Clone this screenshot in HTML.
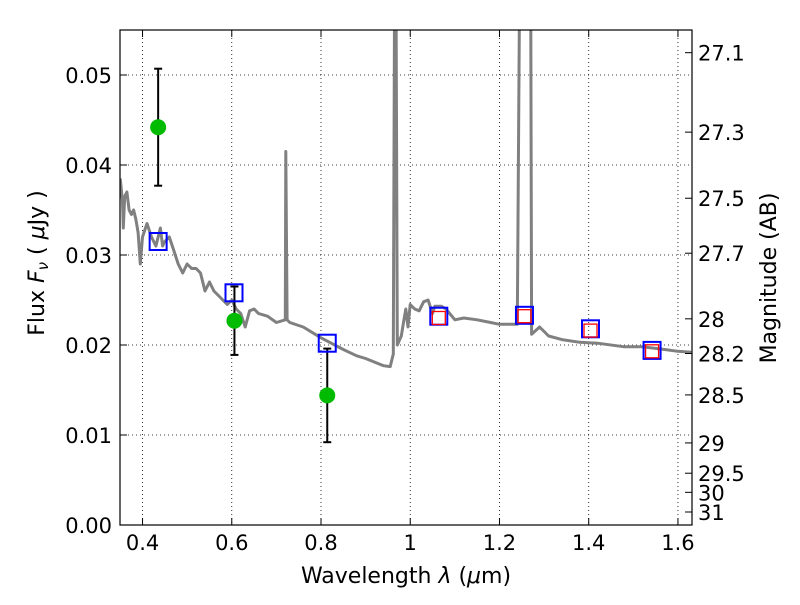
<!DOCTYPE html>
<html><head><meta charset="utf-8"><style>
body{margin:0;background:#fff;}
svg text{font-family:"DejaVu Sans","Liberation Sans",sans-serif;}
</style></head><body>
<svg id="c" width="800" height="600" xmlns="http://www.w3.org/2000/svg"></svg>
<script>
const spectrum=[[0.350,0.0385],[0.355,0.036],[0.357,0.033],[0.360,0.0365],[0.365,0.037],[0.370,0.035],[0.375,0.0345],[0.380,0.035],[0.385,0.034],[0.390,0.0325],[0.395,0.029],[0.400,0.032],[0.410,0.0335],[0.420,0.032],[0.430,0.031],[0.440,0.033],[0.445,0.031],[0.450,0.0315],[0.460,0.032],[0.470,0.0305],[0.480,0.029],[0.490,0.028],[0.500,0.029],[0.510,0.0285],[0.520,0.0285],[0.530,0.028],[0.540,0.026],[0.550,0.027],[0.560,0.026],[0.570,0.0255],[0.580,0.025],[0.590,0.0245],[0.600,0.025],[0.610,0.024],[0.620,0.0235],[0.630,0.022],[0.640,0.0238],[0.650,0.024],[0.660,0.0235],[0.680,0.0232],[0.700,0.0225],[0.720,0.0228],[0.721,0.0415],[0.724,0.0228],[0.730,0.0225],[0.760,0.022],[0.800,0.0208],[0.850,0.0195],[0.880,0.0188],[0.900,0.0185],[0.940,0.0177],[0.955,0.0176],[0.962,0.019],[0.965,0.06],[0.968,0.06],[0.971,0.020],[0.980,0.021],[0.985,0.0225],[0.990,0.024],[0.995,0.022],[1.000,0.0245],[1.010,0.024],[1.020,0.0238],[1.030,0.0248],[1.040,0.025],[1.050,0.0235],[1.055,0.0243],[1.070,0.0243],[1.080,0.024],[1.100,0.0228],[1.120,0.023],[1.150,0.0228],[1.180,0.0225],[1.200,0.0223],[1.240,0.0223],[1.245,0.06],[1.270,0.06],[1.272,0.0212],[1.290,0.022],[1.310,0.0210],[1.340,0.0206],[1.380,0.0203],[1.420,0.0202],[1.480,0.0198],[1.520,0.0198],[1.570,0.0195],[1.600,0.0193],[1.630,0.0192]];
const modelWl=[0.435,0.605,0.814,1.064,1.256,1.404,1.542];
const modelFlux=[0.0315,0.0258,0.0202,0.0232,0.0233,0.0218,0.0194];
const irWl=[1.064,1.256,1.404,1.542];
const irFlux=[0.0230,0.0232,0.0216,0.0193];
const obsWl=[0.435,0.606,0.814];
const obsFlux=[0.0442,0.0227,0.0144];
const obsErr=[0.0065,0.0038,0.0052];
const xTicks=[0.4,0.6,0.8,1,1.2,1.4,1.6];
const yTicks=[0,0.01,0.02,0.03,0.04,0.05];
const yTickLabels=["0.00","0.01","0.02","0.03","0.04","0.05"];
const magTicks=[27.1,27.3,27.5,27.7,28,28.2,28.5,29,29.5,30,31];

const L=120,R=692,T=30,B=525,X0=0.3495,X1=1.6315,Y0=0,Y1=0.055;
const sx=v=>L+(v-X0)/(X1-X0)*(R-L);
const sy=v=>B-(v-Y0)/(Y1-Y0)*(B-T);
const svg=document.getElementById('c');
const NS='http://www.w3.org/2000/svg';
function el(t,a,p){const e=document.createElementNS(NS,t);for(const k in a)e.setAttribute(k,a[k]);(p||svg).appendChild(e);return e;}
const defs=el('defs',{});const cp=el('clipPath',{id:'clip'},defs);el('rect',{x:L,y:T,width:R-L,height:B-T},cp);

const grid=el('g',{});


xTicks.forEach(v=>{el('line',{x1:sx(v),x2:sx(v),y1:T,y2:B,stroke:'#000','stroke-dasharray':'1,3','stroke-width':0.8},grid);});
yTicks.forEach(v=>{el('line',{x1:L,x2:R,y1:sy(v),y2:sy(v),stroke:'#000','stroke-dasharray':'1,3','stroke-width':0.8},grid);});

const d=spectrum.map((p,i)=>(i?'L':'M')+sx(p[0]).toFixed(1)+','+sy(p[1]).toFixed(1)).join('');
const sp=el('path',{d:d,fill:'none',stroke:'#808080','stroke-width':3,'clip-path':'url(#clip)','stroke-linejoin':'round'});



obsWl.forEach((w,i)=>{
 const g=el('g',{});
 
 
 const x=sx(w),yt=sy(obsFlux[i]+obsErr[i]),yb=sy(obsFlux[i]-obsErr[i]);
 el('line',{x1:x,x2:x,y1:yt,y2:yb,stroke:'#000','stroke-width':2},g);
 el('line',{x1:x-4,x2:x+4,y1:yt,y2:yt,stroke:'#000','stroke-width':2},g);
 el('line',{x1:x-4,x2:x+4,y1:yb,y2:yb,stroke:'#000','stroke-width':2},g);
 el('circle',{cx:x,cy:sy(obsFlux[i]),r:8,fill:'#00bb00'},g);
});
modelWl.forEach((w,i)=>{
 const r=el('rect',{x:sx(w)-8.5,y:sy(modelFlux[i])-8.5,width:17,height:17,fill:'none',stroke:'#0000ff','stroke-width':2});
 
 
});
irWl.forEach((w,i)=>{
 const r=el('rect',{x:sx(w)-6.5,y:sy(irFlux[i])-6.5,width:13,height:13,fill:'none',stroke:'#ff0000','stroke-width':1.3});
 
 
});

const fr=el('rect',{x:L,y:T,width:R-L,height:B-T,fill:'none',stroke:'#000','stroke-width':1.2});



xTicks.forEach(v=>{const x=sx(v);
 el('line',{x1:x,x2:x,y1:B,y2:B-7,stroke:'#000'});el('line',{x1:x,x2:x,y1:T,y2:T+7,stroke:'#000'});
 const t=el('text',{x:x,y:B+25,'font-size':21,'text-anchor':'middle'});t.textContent=String(v);
 
 
});
yTicks.forEach((v,i)=>{const y=sy(v);
 el('line',{x1:L,x2:L+7,y1:y,y2:y,stroke:'#000'});
 const t=el('text',{x:L-8,y:y+8,'font-size':21,'text-anchor':'end'});t.textContent=yTickLabels[i];
 
 
});
magTicks.forEach(m=>{const y=sy(Math.pow(10,(23.9-m)/2.5));
 el('line',{x1:R,x2:R-7,y1:y,y2:y,stroke:'#000'});
 const t=el('text',{x:R+6,y:y+8,'font-size':21});t.textContent=String(m);
 
 
});
let t=el('text',{x:406,y:583,'font-size':22,'text-anchor':'middle','xml:space':'preserve'});
t.innerHTML='Wavelength  <tspan font-style="italic">λ</tspan> (<tspan font-style="italic">μ</tspan>m)';


t=el('text',{x:0,y:0,'font-size':22,'text-anchor':'middle','xml:space':'preserve',transform:'translate(44,263) rotate(-90)'});
t.innerHTML='Flux  <tspan font-style="italic">F</tspan><tspan font-style="italic" font-size="15" dy="4">ν</tspan><tspan dy="-4">  ( </tspan><tspan font-style="italic">μ</tspan>Jy )';


t=el('text',{x:0,y:0,'font-size':22,'text-anchor':'middle',transform:'translate(776,278) rotate(-90)'});
t.textContent='Magnitude (AB)';


</script>
</body></html>
